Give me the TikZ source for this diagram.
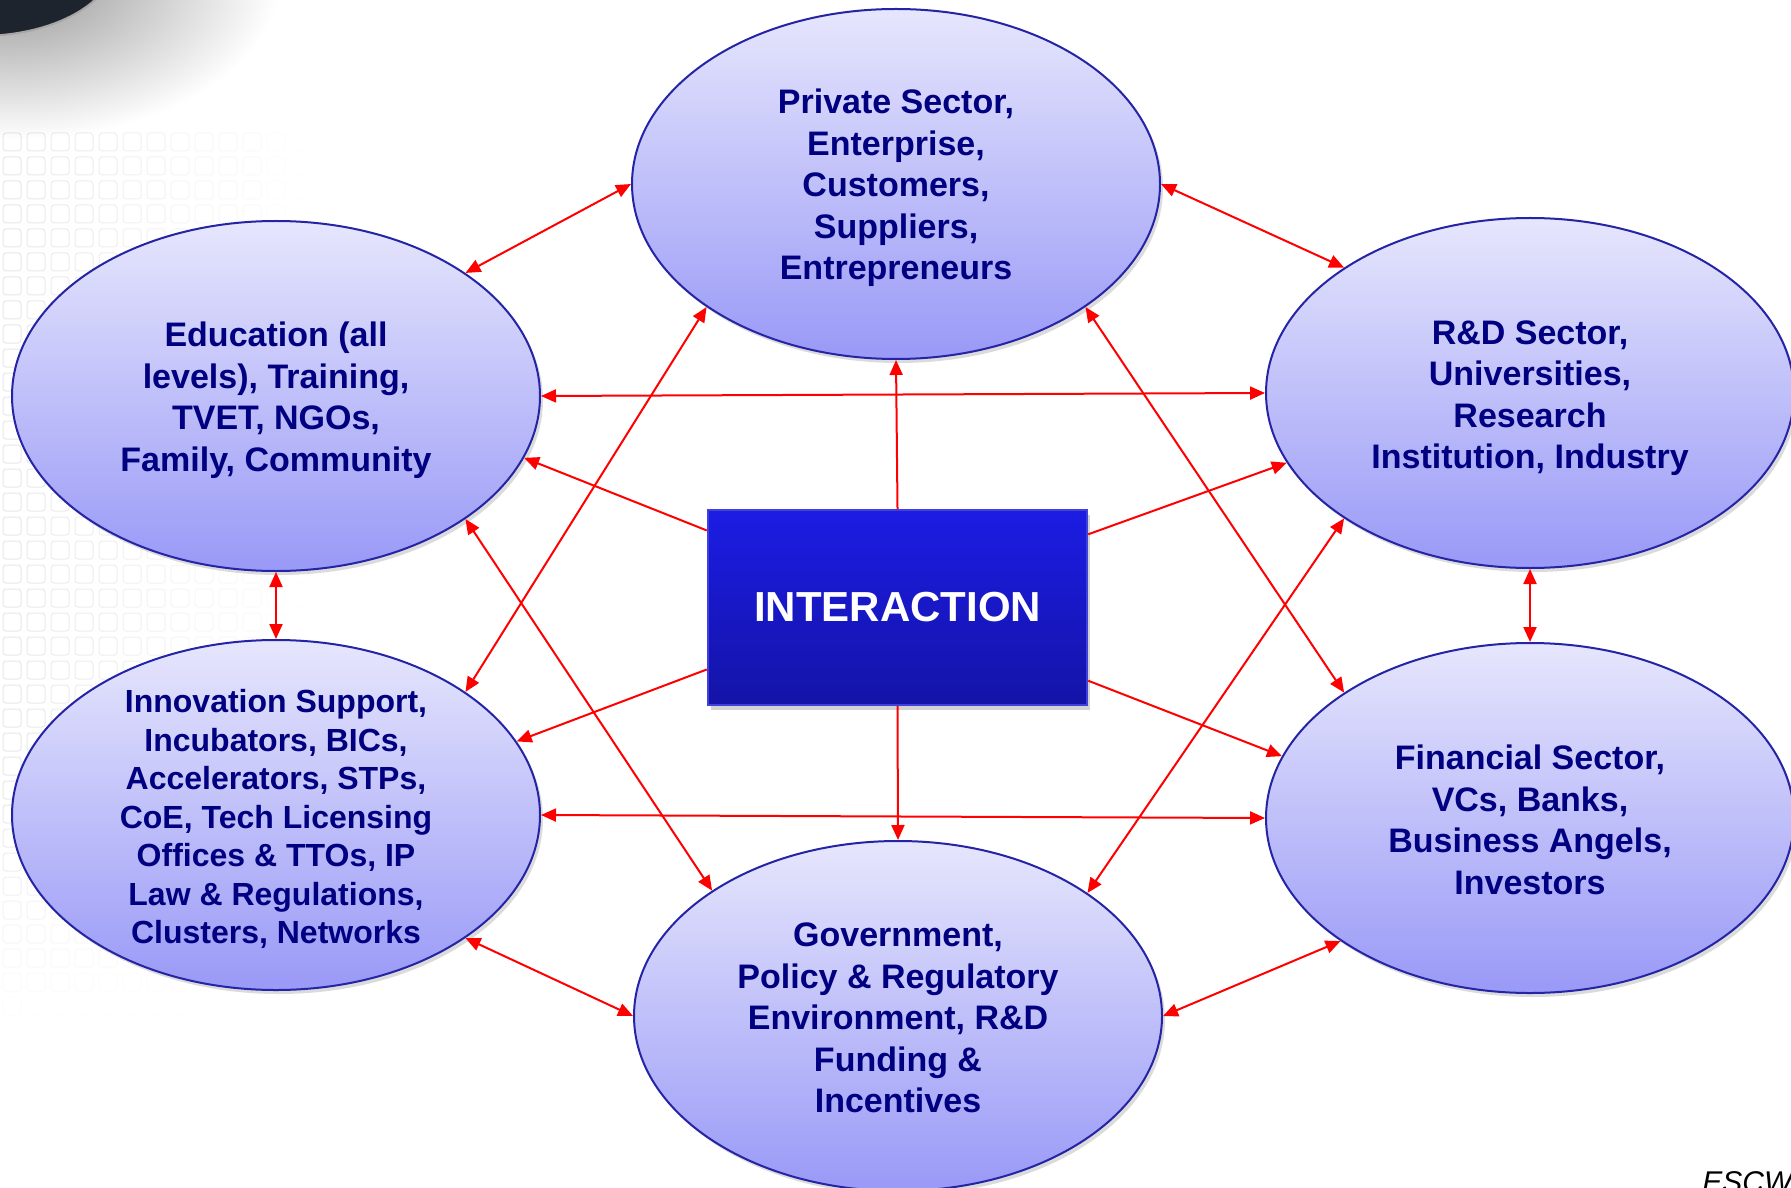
\documentclass[tikz,border=0pt]{standalone}
\usepackage{fontspec}
\setmainfont{Liberation Sans}
\usetikzlibrary{shapes.geometric,arrows.meta,shadows}
\definecolor{ellTop}{RGB}{230,230,253}
\definecolor{ellBot}{RGB}{153,153,247}
\definecolor{ellLine}{RGB}{36,36,165}
\definecolor{txtNavy}{RGB}{0,0,128}
\definecolor{boxTop}{RGB}{28,28,228}
\definecolor{boxBot}{RGB}{20,20,168}
\definecolor{boxLine}{RGB}{64,64,222}
\definecolor{arrRed}{RGB}{255,0,0}
\definecolor{darkBlob}{RGB}{30,36,46}
\tikzset{
  sector/.style={ellipse, draw=ellLine, line width=1pt, top color=ellTop, bottom color=ellBot,
    minimum width=264pt, minimum height=175pt, inner sep=0pt,
    drop shadow={opacity=0.28, shadow xshift=1.5pt, shadow yshift=-2pt}},
  sectortext/.style={text=txtNavy, font=\fontsize{17}{20.75}\selectfont\bfseries, align=center, inner sep=0pt},
  sectortextsmall/.style={text=txtNavy, font=\fontsize{16}{19.25}\selectfont\bfseries, align=center, inner sep=0pt},
  hub/.style={rectangle, draw=boxLine, line width=1.2pt, top color=boxTop, bottom color=boxBot,
    minimum width=189.5pt, minimum height=97.5pt, inner sep=0pt, text=white,
    font=\fontsize{21}{25}\selectfont\bfseries,
    drop shadow={opacity=0.35, shadow xshift=1.5pt, shadow yshift=-2.5pt}},
  tip/.tip={Triangle[length=7.5pt,width=6.5pt]},
  link/.style={draw=arrRed, line width=1pt, tip-tip},
  spoke/.style={draw=arrRed, line width=1pt, -tip},
}
\begin{document}
\begin{tikzpicture}[x=0.5pt,y=-0.5pt]
\useasboundingbox (0,0) rectangle (1791,1187);
\clip (0,0) rectangle (1791,1187);
\fill[white] (0,0) rectangle (1791,1187);
% background decoration
\shade[inner color=black!42, outer color=white] (10,-20) ellipse [x radius=270, y radius=160];
\foreach \gx in {0,24,...,288} {
  \foreach \gy in {130,154,...,1000} {
    \pgfmathsetmacro\op{max(0,0.2*(1-\gx/300)*min(1,(1010-\gy)/220))}
    \draw[black!45, opacity=\op, line width=0.5pt, rounded corners=1.5pt] (\gx+3,\gy+3) rectangle ++(18,18);
  }
}
\fill[darkBlob] (-20,-40) ellipse [x radius=135, y radius=76];
\draw[black!35, line width=1pt] (-20,-40) ellipse [x radius=135, y radius=76];

% sectors
\node[sector] (T)  at (896,184)  {};
\node[sector] (LT) at (276,396)  {};
\node[sector] (RT) at (1530,393) {};
\node[sector] (LB) at (276,815)  {};
\node[sector] (RB) at (1530,818) {};
\node[sector] (B)  at (898,1016) {};

\node[sectortext] (tT) at (896,188) {Private Sector,\\Enterprise,\\Customers,\\Suppliers,\\Entrepreneurs};
\node[sectortext] (tLT) at (276,400) {Education (all\\levels), Training,\\TVET, NGOs,\\Family, Community};
\node[sectortext] (tRT) at (1530,398) {R\&D Sector,\\Universities,\\Research\\Institution, Industry};
\node[sectortextsmall] (tLB) at (276,819) {Innovation Support,\\Incubators, BICs,\\Accelerators, STPs,\\CoE, Tech Licensing\\Offices \& TTOs, IP\\Law \& Regulations,\\Clusters, Networks};
\node[sectortext] (tRB) at (1530,820) {Financial Sector,\\VCs, Banks,\\Business Angels,\\Investors};
\node[sectortext] (tB) at (898,1018) {Government,\\Policy \& Regulatory\\Environment, R\&D\\Funding \&\\Incentives};

% links between sectors
\draw[link] (T.west) -- (LT.33.4);
\draw[link] (T.east) -- (RT.146.9);
\draw[link] (LT.east) -- (RT.west);
\draw[link] (LB.east) -- (RB.west);
\draw[link] (LT.south) -- (LB.north);
\draw[link] (RT.south) -- (RB.north);
\draw[link] (LT.-33.8) -- (B.146);
\draw[link] (T.213.4) -- (LB.33.6);
\draw[link] (T.-33.3) -- (RB.146.2);
\draw[link] (RT.214.6) -- (B.33.9);
\draw[link] (LB.-33.8) -- (B.west);
\draw[link] (B.east) -- (RB.213.3);

% hub
\node[hub] (I) at (897.5,607.5) {INTERACTION};
\draw[spoke] (I.north) -- (T.south);
\draw[spoke] (I.south) -- (B.north);
\draw[spoke] (I.158) -- (LT.-14.5);
\draw[spoke] (I.21.5) -- (RT.196.2);
\draw[spoke] (I.198.3) -- (LB.17.7);
\draw[spoke] (I.-21.7) -- (RB.166.5);

\node[font=\fontsize{15}{18}\selectfont\itshape, anchor=base west, inner sep=0pt] (src) at (1702,1192) {ESCW};
\end{tikzpicture}
\end{document}
